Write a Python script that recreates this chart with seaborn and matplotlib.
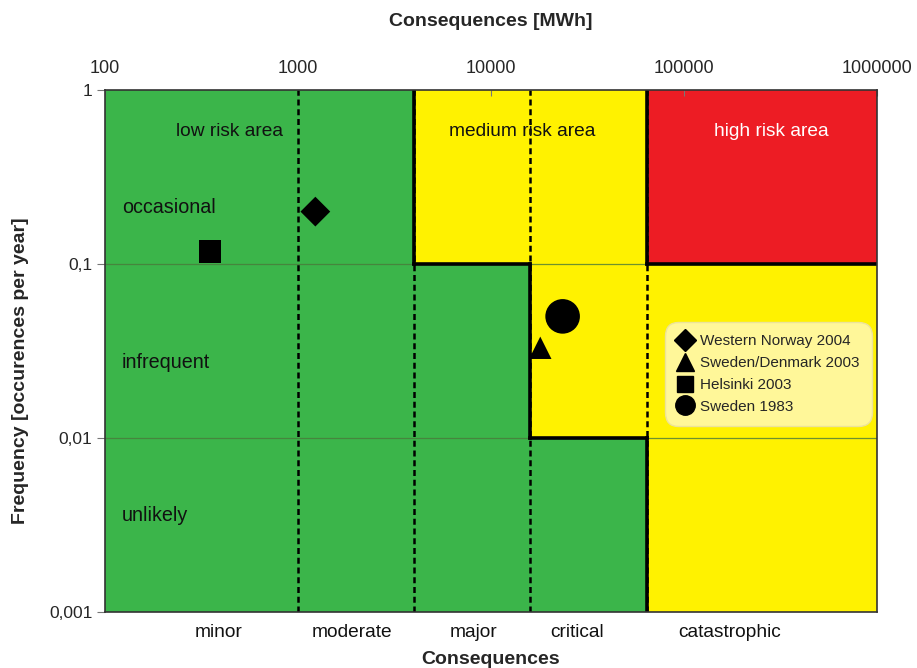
import matplotlib
matplotlib.use("Agg")
import matplotlib.pyplot as plt
from matplotlib.lines import Line2D
import seaborn as sns
import pandas as pd

# Events plotted in the risk matrix
events = ["Western Norway 2004", "Sweden/Denmark 2003", "Helsinki 2003", "Sweden 1983"]
consequences_mwh = [1230, 18000, 350, 23500]
frequency_per_year = [0.20, 0.033, 0.118, 0.050]
event_markers = ["D", "^", "s", "o"]
event_sizes = [230, 260, 260, 620]

# Axis ticks
x_ticks = [100, 1000, 10000, 100000, 1000000]
x_tick_labels = ["100", "1000", "10000", "100000", "1000000"]
y_ticks = [0.001, 0.01, 0.1, 1]
y_tick_labels = ["0,001", "0,01", "0,1", "1"]

# Consequence classes (boundaries in MWh) and their labels
class_bounds = [1000, 4000, 16000, 64000]
class_labels = ["minor", "moderate", "major", "critical", "catastrophic"]
class_label_x = [390, 1900, 8100, 28000, 173000]

# Frequency classes
freq_labels = ["occasional", "infrequent", "unlikely"]
freq_label_y = [0.21, 0.027, 0.0036]

GREEN = "#3bb54a"
YELLOW = "#fff200"
RED = "#ed1c24"

sns.set_style("white")
plt.rcParams["font.family"] = ["Liberation Sans", "DejaVu Sans"]

fig = plt.figure(figsize=(9.17, 6.68), dpi=100)
ax = fig.add_axes([0.1145, 0.0838, 0.8419, 0.7815])
ax.set_xscale("log")
ax.set_yscale("log")
ax.set_xlim(100, 1e6)
ax.set_ylim(0.001, 1)

# Risk zones
zones = [
    (100, 1e6, 0.001, 1, GREEN),
    (4000, 64000, 0.1, 1, YELLOW),
    (16000, 64000, 0.01, 0.1, YELLOW),
    (64000, 1e6, 0.001, 0.1, YELLOW),
    (64000, 1e6, 0.1, 1, RED),
]
for x0, x1, y0, y1, c in zones:
    ax.fill_between([x0, x1], y0, y1, color=c, lw=0, zorder=0)

# Frequency grid lines
for y in [0.1, 0.01]:
    ax.axhline(y, color="#4a7a3a", lw=0.9, alpha=0.8, zorder=1)

# Consequence class boundaries (dashed)
for xb in class_bounds:
    ax.axvline(xb, color="black", lw=1.8, ls=(0, (2.4, 1.5)), zorder=2)

# Risk area borders (solid)
borders = [
    ([4000, 4000], [1, 0.1]),
    ([4000, 16000], [0.1, 0.1]),
    ([16000, 16000], [0.1, 0.01]),
    ([16000, 64000], [0.01, 0.01]),
    ([64000, 64000], [0.01, 0.001]),
    ([64000, 64000], [1, 0.1]),
    ([64000, 1e6], [0.1, 0.1]),
]
for xs, ys in borders:
    ax.plot(xs, ys, color="black", lw=2.6, solid_capstyle="projecting", zorder=3)

# Events
df = pd.DataFrame({"event": events, "consequence": consequences_mwh,
                   "frequency": frequency_per_year})
sns.scatterplot(data=df, x="consequence", y="frequency", style="event",
                markers=dict(zip(events, event_markers)), size="event",
                sizes=dict(zip(events, event_sizes)), color="black",
                edgecolor="black", linewidth=0, ax=ax, legend=False, zorder=5)

# Area labels
ax.text(440, 0.58, "low risk area", ha="center", va="center", fontsize=13.8, color="#111111")
ax.text(14500, 0.58, "medium risk area", ha="center", va="center", fontsize=13.8, color="#111111")
ax.text(285000, 0.58, "high risk area", ha="center", va="center", fontsize=13.8, color="white")
for lab, y in zip(freq_labels, freq_label_y):
    ax.text(122, y, lab, ha="left", va="center", fontsize=14.2, color="#111111")

# Axes styling
ax.xaxis.tick_top()
ax.xaxis.set_label_position("top")
ax.set_xticks(x_ticks)
ax.set_xticklabels(x_tick_labels, fontsize=13)
ax.xaxis.set_minor_locator(plt.NullLocator())
ax.set_yticks(y_ticks)
ax.set_yticklabels(y_tick_labels, fontsize=12.5)
ax.yaxis.set_minor_locator(plt.NullLocator())
ax.tick_params(axis="x", direction="in", length=4, color="#777777", pad=9)
ax.tick_params(axis="y", direction="out", length=6, color="#777777", left=True, pad=3)
ax.set_xlabel("Consequences [MWh]", fontsize=14, fontweight="bold", labelpad=25)
ax.set_ylabel("Frequency [occurences per year]", fontsize=14, fontweight="bold")
ax.yaxis.set_label_coords(-0.098, 0.463)
for s in ax.spines.values():
    s.set_color("#333333")
    s.set_linewidth(1.2)
    s.set_zorder(6)

# Consequence class labels under the plot
trans = ax.get_xaxis_transform()
for lab, xc in zip(class_labels, class_label_x):
    ax.text(xc, -0.04, lab, transform=trans, ha="center", va="center", fontsize=13.8,
            color="#111111", clip_on=False)
ax.text(0.5, -0.091, "Consequences", transform=ax.transAxes, ha="center", va="center",
        fontsize=14, fontweight="bold", clip_on=False)

# Legend
handles = [Line2D([], [], ls="", marker=m, color="black", markersize=ms)
           for m, ms in zip(event_markers, [11, 13, 12, 14])]
leg = ax.legend(handles, events, loc="upper left", bbox_to_anchor=(0.725, 0.556),
                frameon=True, fancybox=True, fontsize=11, handlelength=1.0,
                handletextpad=0.5, labelspacing=0.52, borderpad=0.8, borderaxespad=0)
frame = leg.get_frame()
frame.set_boxstyle("round", pad=0, rounding_size=0.9)
frame.set_facecolor("#fff799")
frame.set_edgecolor("#ece39a")
frame.set_alpha(1)
leg.set_zorder(7)

fig.savefig("out.png", dpi=100)
